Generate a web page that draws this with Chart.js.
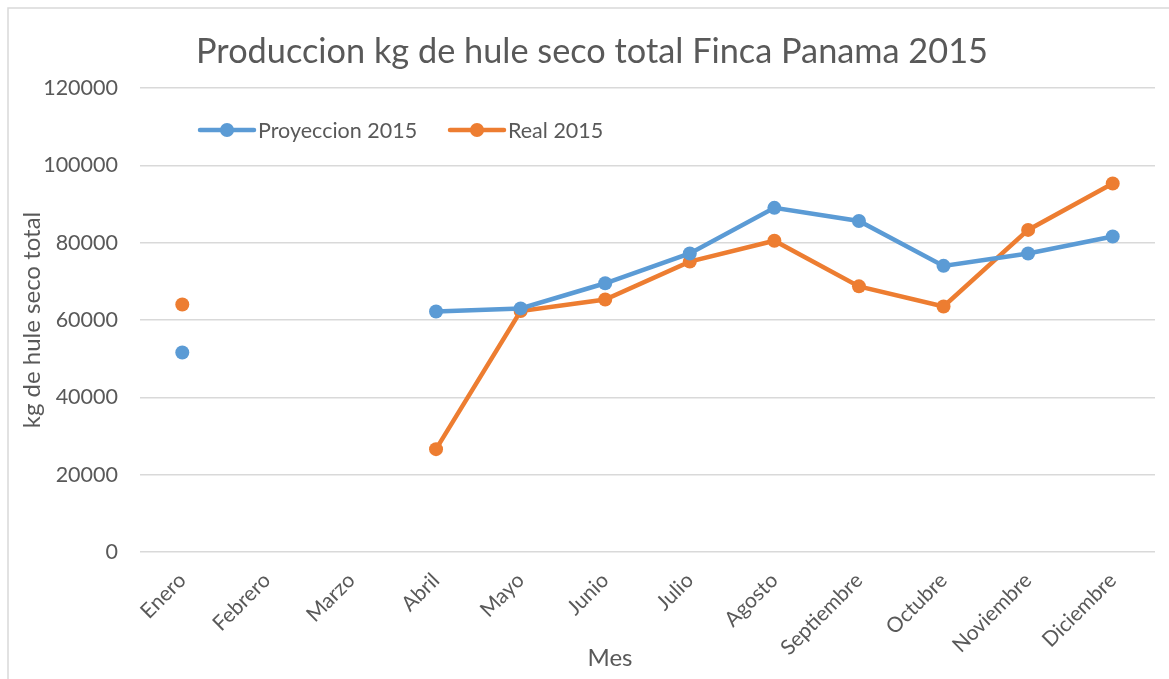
<!DOCTYPE html>
<html>
<head>
<meta charset="utf-8">
<script src="https://cdn.jsdelivr.net/npm/chart.js@4/dist/chart.umd.min.js"></script>
<style>
html,body{margin:0;padding:0;background:#fff;}
#wrap{width:1169px;height:679px;position:relative;}
</style>
</head>
<body>
<div id="wrap"><canvas id="c" width="1169" height="679"></canvas></div>
<script>
const months = ["Enero","Febrero","Marzo","Abril","Mayo","Junio","Julio","Agosto","Septiembre","Octubre","Noviembre","Diciembre"];
const proyeccion = [51600, null, null, 62200, 63000, 69500, 77200, 89000, 85600, 74000, 77200, 81600];
const real = [64000, null, null, 26600, 62300, 65300, 75100, 80500, 68700, 63500, 83300, 95300];
const seriesNames = ["Proyeccion 2015", "Real 2015"];
const yTicks = [0, 20000, 40000, 60000, 80000, 100000, 120000];
const chartTitle = "Produccion kg de hule seco total Finca Panama 2015";
const xTitle = "Mes";

const FONT = "Lato, 'Open Sans', sans-serif";
const BLUE = "#5B9BD5", ORANGE = "#ED7D31", TXT = "#595959";

const frame = {
  id: 'frame',
  beforeDraw(chart) {
    const ctx = chart.ctx;
    ctx.save();
    ctx.strokeStyle = "#D9D9D9";
    ctx.lineWidth = 1.5;
    ctx.beginPath();
    ctx.moveTo(8, 700); ctx.lineTo(8, 8); ctx.lineTo(1200, 8);
    ctx.stroke();
    ctx.restore();
  }
};

const textPlugin = {
  id: 'texts',
  afterDraw(chart) {
    const ctx = chart.ctx;
    ctx.save();
    // title
    ctx.fillStyle = TXT;
    ctx.font = "34.3px " + FONT;
    ctx.textAlign = 'center';
    ctx.textBaseline = 'middle';
    ctx.fillText(chartTitle, 592, 52);
    // legend
    const items = [
      {label: seriesNames[0], color: BLUE, x: 200},
      {label: seriesNames[1], color: ORANGE, x: 450}
    ];
    const y = 130;
    items.forEach(it => {
      ctx.strokeStyle = it.color;
      ctx.lineWidth = 4.5;
      ctx.lineCap = 'round';
      ctx.beginPath(); ctx.moveTo(it.x, y); ctx.lineTo(it.x + 54, y); ctx.stroke();
      ctx.fillStyle = it.color;
      ctx.beginPath(); ctx.arc(it.x + 27, y, 7, 0, Math.PI * 2); ctx.fill();
      ctx.fillStyle = TXT;
      ctx.font = "21.5px " + FONT;
      ctx.textBaseline = 'middle';
      ctx.textAlign = 'left';
      ctx.fillText(it.label, it.x + 58, y + 1);
    });
    // x-axis title
    ctx.fillStyle = TXT;
    ctx.font = "24px " + FONT;
    ctx.textAlign = 'center';
    ctx.textBaseline = 'middle';
    ctx.fillText(xTitle, 610, 658);
    ctx.restore();
  }
};

new Chart(document.getElementById('c'), {
  type: 'line',
  data: {
    labels: months,
    datasets: [
      {label: seriesNames[0], data: proyeccion, borderColor: BLUE, backgroundColor: BLUE,
       borderWidth: 4.5, pointRadius: 7, pointHoverRadius: 7, pointBorderWidth: 0, spanGaps: false, tension: 0},
      {label: seriesNames[1], data: real, borderColor: ORANGE, backgroundColor: ORANGE,
       borderWidth: 4.5, pointRadius: 7, pointHoverRadius: 7, pointBorderWidth: 0, spanGaps: false, tension: 0}
    ]
  },
  options: {
    responsive: false,
    animation: false,
    devicePixelRatio: 1,
    layout: {padding: {left: 0, right: 14, top: 88, bottom: 0}},
    plugins: {
      legend: {display: false},
      tooltip: {enabled: false},
      title: {display: false}
    },
    scales: {
      x: {
        offset: true,
        grid: {display: false, drawTicks: false},
        border: {display: false},
        ticks: {color: TXT, font: {family: FONT, size: 21}, maxRotation: 45, minRotation: 45, padding: 16},
        title: {display: false},
        afterFit(scale) { scale.height = 679 - 552; }
      },
      y: {
        min: 0, max: 120000,
        afterBuildTicks(scale) { scale.ticks = yTicks.map(v => ({value: v})); },
        grid: {color: "#D9D9D9", lineWidth: 1.5, drawTicks: false},
        border: {display: false},
        ticks: {color: TXT, font: {family: FONT, size: 21.5}, padding: 22, callback: v => String(v)},
        title: {display: true, text: "kg de hule seco total", color: TXT, font: {family: FONT, size: 24}, padding: {top: 18, bottom: 0}},
        afterFit(scale) { scale.width = 140; }
      }
    }
  },
  plugins: [frame, textPlugin]
});
</script>
</body>
</html>
